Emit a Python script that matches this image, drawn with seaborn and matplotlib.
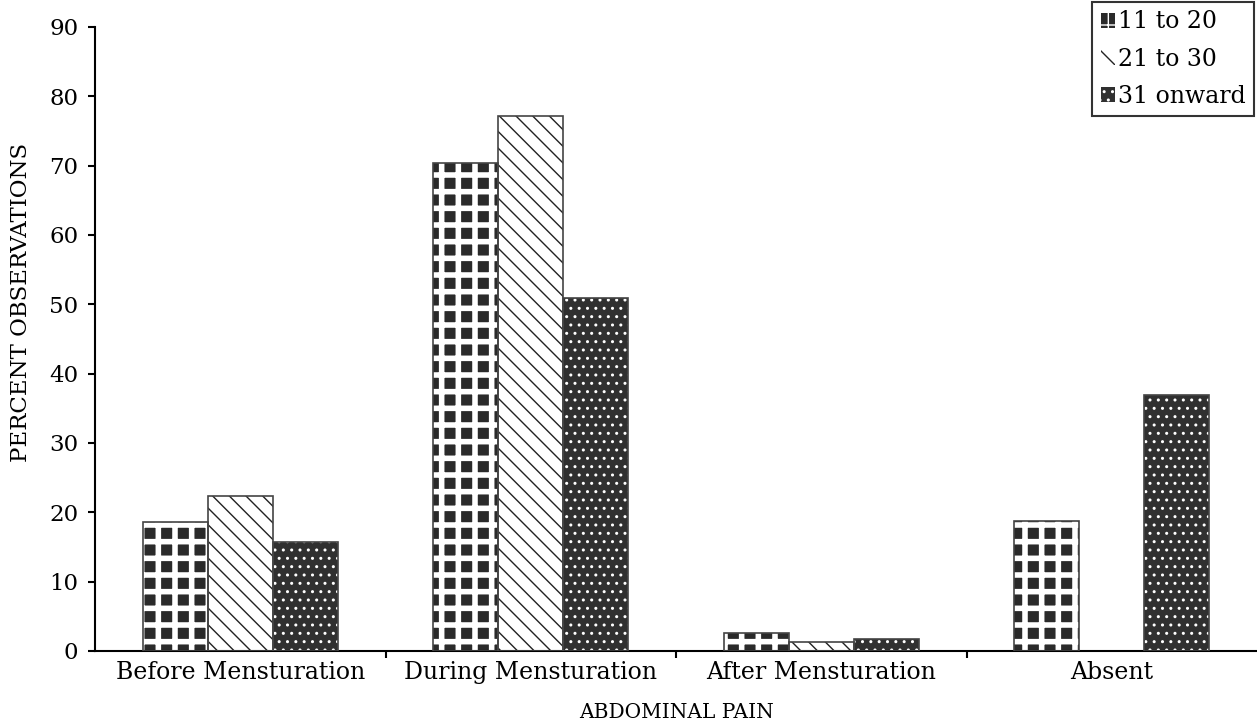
import numpy as np
import pandas as pd
import matplotlib
matplotlib.use("Agg")
import matplotlib.pyplot as plt
import seaborn as sns
from matplotlib.patches import Rectangle

# data
categories = ["Before Mensturation", "During Mensturation", "After Mensturation", "Absent"]
groups = ["11 to 20", "21 to 30", "31 onward"]
age_11_20 = [18.6, 70.4, 2.6, 18.8]
age_21_30 = [22.4, 77.2, 1.3, 0.0]
age_31_on = [15.7, 50.9, 1.7, 36.9]
yticks = list(range(0, 100, 10))

df = pd.DataFrame({
    "pain":  categories * 3,
    "group": [g for g in groups for _ in categories],
    "value": age_11_20 + age_21_30 + age_31_on,
})

sns.set_style("white")
plt.rcParams["font.family"] = ["DejaVu Serif"]
plt.rcParams["hatch.linewidth"] = 1.0
for k in ["text.color", "axes.labelcolor", "xtick.color", "ytick.color"]:
    plt.rcParams[k] = "black"

fig = plt.figure(figsize=(12.57, 7.28), dpi=100)
ax = fig.add_axes([0.0756, 0.106, 0.9244, 0.857])

sns.barplot(data=df, x="pain", y="value", hue="group", order=categories,
            hue_order=groups, width=0.67, errorbar=None, legend=False, ax=ax)

# (face, hatch colour, hatch, hatch width)
styles = [
    ("#2a2a2a", "white", "+",  4.0),
    ("white",   "#222222", "\\\\", 1.0),
    ("#303030", "white", "..", 1.0),
]

for cont, (face, hcol, hatch, hlw) in zip(ax.containers, styles):
    for p in cont.patches:
        p.set_facecolor(face)
        p.set_hatch(hatch)
        p.set_edgecolor(hcol)
        p.set_linewidth(0)
        if hasattr(p, "set_hatch_linewidth"):
            p.set_hatch_linewidth(hlw)
        if p.get_height() > 0:
            ax.add_patch(Rectangle(p.get_xy(), p.get_width(), p.get_height(),
                                   fill=False, edgecolor="#444444", lw=1.2, zorder=3))

ax.set_xlim(-0.5, 3.5)
ax.set_ylim(0, 90)
ax.set_yticks(yticks)
ax.set_xticks(range(len(categories)))
ax.set_xticklabels(categories)
ax.set_xticks([0.5, 1.5, 2.5], minor=True)
ax.tick_params(axis="y", left=True, length=5, width=1.5, labelsize=16.5, pad=7)
ax.tick_params(axis="x", which="major", bottom=False, length=0, labelsize=17, pad=7)
ax.tick_params(axis="x", which="minor", bottom=True, length=5, width=1.5, direction="out")

for s in ["top", "right"]:
    ax.spines[s].set_visible(False)
for s in ["left", "bottom"]:
    ax.spines[s].set_color("black")
    ax.spines[s].set_linewidth(1.5)

ax.set_xlabel("ABDOMINAL PAIN", fontsize=14.5, labelpad=14)
ax.set_ylabel("PERCENT OBSERVATIONS", fontsize=16.5)
ax.yaxis.set_label_coords(-0.054, 0.558)

leg = fig.legend(ax.containers, groups, loc="upper right", bbox_to_anchor=(0.998, 0.997),
                 fontsize=17, frameon=True, fancybox=False, edgecolor="black",
                 handlelength=0.6, handleheight=0.6, handletextpad=0.15,
                 borderpad=0.35, labelspacing=0.6, borderaxespad=0)
leg.get_frame().set_linewidth(1.5)

fig.savefig("out.png", dpi=100, facecolor="white")
